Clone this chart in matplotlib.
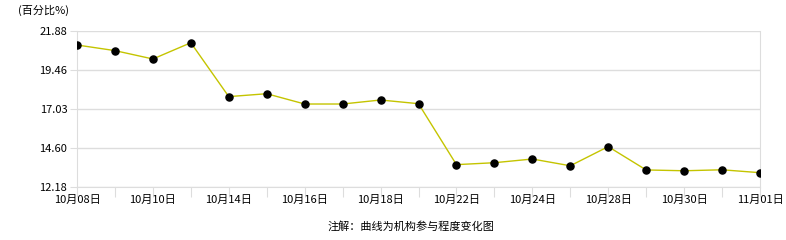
import matplotlib
matplotlib.use('Agg')
import matplotlib.pyplot as plt

plt.rcParams['font.family'] = ['Noto Sans CJK SC', 'DejaVu Sans']

# Data
dates = ['10月08日', '10月09日', '10月10日', '10月11日', '10月14日', '10月15日',
         '10月16日', '10月17日', '10月18日', '10月21日', '10月22日', '10月23日',
         '10月24日', '10月25日', '10月28日', '10月29日', '10月30日', '10月31日',
         '11月01日']
values = [21.01, 20.66, 20.14, 21.15, 17.80, 17.98, 17.34, 17.34, 17.59, 17.36,
          13.57, 13.69, 13.92, 13.50, 14.69, 13.24, 13.19, 13.25, 13.07]
yticks = [12.18, 14.60, 17.03, 19.46, 21.88]

fig = plt.figure(figsize=(7.86, 2.4), dpi=100)
ax = fig.add_axes([77/786, 1-187/240, (760-77)/786, (187-31)/240])

x = list(range(len(dates)))
ax.plot(x, values, color='#c4c400', lw=1, zorder=2)
ax.scatter(x, values, s=26, color='black', zorder=3)

ax.set_xlim(0, len(dates)-1)
ax.set_ylim(yticks[0], yticks[-1])
ax.set_yticks(yticks)
ax.set_yticklabels(['%.2f' % v for v in yticks])
ax.set_xticks(x)
ax.set_xticklabels([d if i % 2 == 0 else '' for i, d in enumerate(dates)])

ax.grid(axis='y', color='#dddddd', lw=1)
ax.spines['top'].set_visible(False)
for s in ['left', 'right', 'bottom']:
    ax.spines[s].set_color('#dddddd')
ax.tick_params(axis='x', length=7, color='#dddddd', labelsize=8, pad=-1)
ax.tick_params(axis='y', length=5, color='#dddddd', labelsize=8, pad=2)

fig.text(18/786, 1-10/240, '(百分比%)', fontsize=8, va='center', ha='left')
fig.text(411/786, 1-226/240, '注解：曲线为机构参与程度变化图', fontsize=8,
         va='center', ha='center')

fig.savefig('out.png', dpi=100)
